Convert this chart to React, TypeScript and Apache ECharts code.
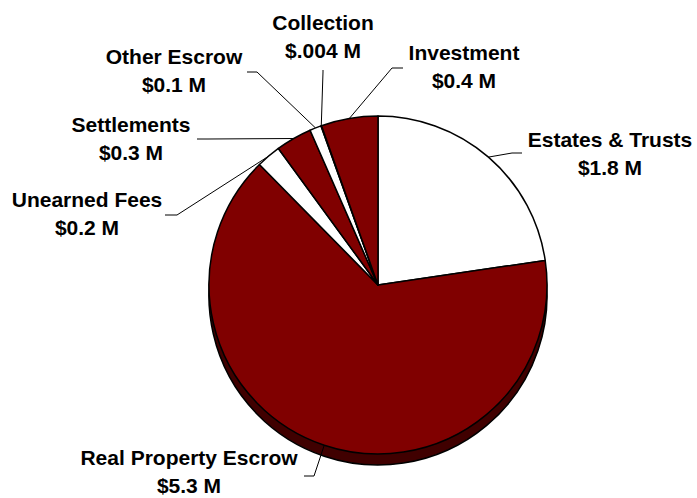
import React, { useEffect, useRef } from "react";
import * as echarts from "echarts";

const categories = [
  "Estates & Trusts",
  "Real Property Escrow",
  "Unearned Fees",
  "Settlements",
  "Other Escrow",
  "Collection",
  "Investment",
];
const values = [1.84, 5.27, 0.19, 0.28, 0.09, 0.004, 0.44];
const valueLabels = ["$1.8 M", "$5.3 M", "$0.2 M", "$0.3 M", "$0.1 M", "$.004 M", "$0.4 M"];
const sliceColors = ["#ffffff", "#800000", "#ffffff", "#800000", "#ffffff", "#800000", "#800000"];

// label layout (block centre and leader-line elbow/end), styling only
const labelCenters: [number, number][] = [
  [610, 148],
  [189, 466],
  [87, 208],
  [131, 133],
  [174, 65],
  [323, 31],
  [464, 61],
];
const labelElbows: [number, number][][] = [
  [[512, 153], [522, 153]],
  [[314, 476], [304, 476]],
  [[177, 215], [165, 215]],
  [[208, 139], [197, 139]],
  [[257, 72], [247, 72]],
  [[323, 72], [323, 70]],
  [[392, 68], [403, 68]],
];

export default function App() {
  const ref = useRef<HTMLDivElement>(null);
  useEffect(() => {
    if (!ref.current) return;
    const chart = echarts.init(ref.current, undefined, { renderer: "svg" });
    const font = "'Liberation Sans', Arial, Helvetica, sans-serif";
    const cx = 378;
    const cy = 285;
    const r = 169;
    const txt = {
      fontFamily: font,
      fontWeight: "bold" as const,
      fontSize: 21,
      color: "#000000",
      align: "center" as const,
    };
    chart.setOption({
      animation: false,
      backgroundColor: "#ffffff",
      series: [
        {
          type: "pie",
          silent: true,
          z: 1,
          center: [cx, cy + 11],
          radius: r,
          startAngle: 90,
          label: { show: false },
          labelLine: { show: false },
          itemStyle: { color: "#400000", borderColor: "#000000", borderWidth: 1.5 },
          data: categories.map((c, i) => ({ name: c, value: values[i] })),
        },
        {
          type: "pie",
          silent: true,
          z: 2,
          center: [cx, cy],
          radius: r,
          startAngle: 90,
          minShowLabelAngle: 0,
          avoidLabelOverlap: false,
          itemStyle: { borderColor: "#000000", borderWidth: 1.5 },
          label: {
            show: true,
            position: "outside",
            formatter: (p: any) => "{a|" + p.name + "}\n{b|" + valueLabels[p.dataIndex] + "}",
            align: "center",
            rich: {
              a: { ...txt, lineHeight: 38 },
              b: { ...txt, lineHeight: 18 },
            },
          },
          labelLine: {
            show: true,
            length: 20,
            length2: 10,
            lineStyle: { color: "#000000", width: 1 },
          },
          labelLayout: (p: any) => {
            const i = p.dataIndex;
            const start = p.labelLinePoints ? p.labelLinePoints[0] : [cx, cy];
            return {
              x: labelCenters[i][0],
              y: labelCenters[i][1],
              align: "center",
              verticalAlign: "middle",
              labelLinePoints: [start, labelElbows[i][0], labelElbows[i][1]],
            };
          },
          data: categories.map((c, i) => ({
            name: c,
            value: values[i],
            itemStyle: { color: sliceColors[i] },
          })),
        },
      ],
    });
    return () => chart.dispose();
  }, []);
  return (
    <div
      ref={ref}
      style={{ position: "fixed", left: 0, top: 0, width: 697, height: 498 }}
    />
  );
}
